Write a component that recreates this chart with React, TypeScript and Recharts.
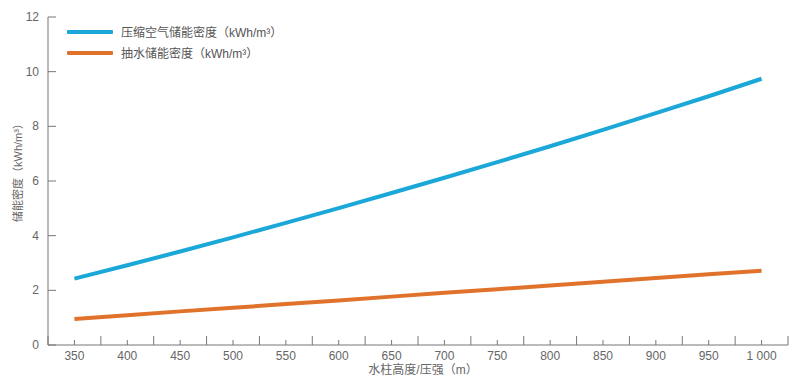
import React from "react";
import { LineChart, Line, XAxis, YAxis, ReferenceLine, Legend } from "recharts";

const heights = [350, 400, 450, 500, 550, 600, 650, 700, 750, 800, 850, 900, 950, 1000];
const xTickLabels = ["350", "400", "450", "500", "550", "600", "650", "700", "750", "800", "850", "900", "950", "1 000"];
const airDensity = [2.43, 2.92, 3.42, 3.94, 4.47, 5.01, 5.56, 6.12, 6.69, 7.27, 7.87, 8.48, 9.1, 9.74];
const hydroDensity = [0.95, 1.09, 1.23, 1.36, 1.5, 1.63, 1.77, 1.91, 2.04, 2.18, 2.31, 2.45, 2.59, 2.72];
const bandEdges = [325, 375, 425, 475, 525, 575, 625, 675, 725, 775, 825, 875, 925, 975, 1025];
const yTicks = [0, 2, 4, 6, 8, 10, 12];

const seriesNames = ["压缩空气储能密度（kWh/m³）", "抽水储能密度（kWh/m³）"];
const seriesColors = ["#1ba8d8", "#e0722c"];

const data = heights.map((h, i) => ({ h, air: airDensity[i], hydro: hydroDensity[i] }));

const FONT = "'Liberation Sans', 'Noto Sans CJK SC', sans-serif";
const AXIS = "#777";
const TEXT = "#666";

const XTick = (props: any) => {
  const { x, y, payload } = props;
  const idx = heights.indexOf(payload.value);
  return (
    <g>
      <line x1={x} x2={x} y1={y} y2={y - 5} stroke={AXIS} strokeWidth={1} />
      <text x={x} y={y + 15} textAnchor="middle" fill={TEXT} fontSize={12} fontFamily={FONT}>
        {idx >= 0 ? xTickLabels[idx] : payload.value}
      </text>
    </g>
  );
};

const YTick = (props: any) => {
  const { x, y, payload } = props;
  return (
    <g>
      <line x1={x} x2={x + 8} y1={y} y2={y} stroke={AXIS} strokeWidth={1} />
      <text x={x - 9} y={y + 4} textAnchor="end" fill={TEXT} fontSize={12} fontFamily={FONT}>
        {payload.value}
      </text>
    </g>
  );
};

const LegendContent = () => (
  <div style={{ fontFamily: FONT, fontSize: 12, color: "#555" }}>
    {seriesNames.map((n, i) => (
      <div key={n} style={{ display: "flex", alignItems: "center", height: 21 }}>
        <span style={{ display: "inline-block", width: 46, height: 4, background: seriesColors[i], marginRight: 8, borderRadius: 1 }} />
        <span>{n}</span>
      </div>
    ))}
  </div>
);

export default function App() {
  return (
    <div style={{ position: "absolute", left: 0, top: 0, width: 800, height: 382, background: "#fff" }}>
      <LineChart width={800} height={382} data={data} margin={{ top: 17, right: 12, left: 0, bottom: 0 }}>
        <XAxis
          dataKey="h"
          type="number"
          domain={[325, 1025]}
          ticks={heights}
          interval={0}
          height={37}
          stroke={AXIS}
          tickLine={false}
          tickSize={0}
          tickMargin={0}
          tick={<XTick />}
          allowDataOverflow
        />
        <YAxis
          domain={[0, 12]}
          ticks={yTicks}
          interval={0}
          width={48}
          stroke={AXIS}
          tickLine={false}
          tickSize={0}
          tickMargin={0}
          tick={<YTick />}
        />
        {bandEdges.map((e) => (
          <ReferenceLine
            key={e}
            segment={[{ x: e, y: 0 }, { x: e, y: 0.33 }]}
            stroke={AXIS}
            strokeWidth={1}
            ifOverflow="visible"
          />
        ))}
        <Legend
          content={<LegendContent />}
          layout="horizontal"
          verticalAlign="middle"
          align="center"
          wrapperStyle={{ left: 67, top: 21, width: 320 }}
        />
        <Line dataKey="air" name={seriesNames[0]} stroke={seriesColors[0]} strokeWidth={4} dot={false} isAnimationActive={false} />
        <Line dataKey="hydro" name={seriesNames[1]} stroke={seriesColors[1]} strokeWidth={4} dot={false} isAnimationActive={false} />
        <text x={18} y={170} transform="rotate(-90 18 170)" textAnchor="middle" dominantBaseline="central" fill={TEXT} fontSize={11} fontFamily={FONT}>
          储能密度（kWh/m³）
        </text>
        <text x={423} y={374} textAnchor="middle" fill={TEXT} fontSize={12} fontFamily={FONT}>
          水柱高度/压强（m）
        </text>
      </LineChart>
    </div>
  );
}
